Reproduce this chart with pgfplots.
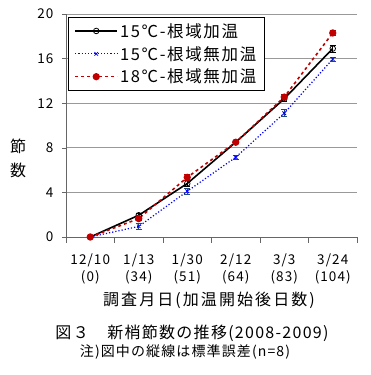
\documentclass[border=0pt]{standalone}
\usepackage{fontspec}
\setmainfont{Noto Sans CJK JP}[LetterSpace=8]
\usepackage{pgfplots}
\pgfplotsset{compat=1.18}
\definecolor{dred}{RGB}{192,0,0}
\definecolor{gblue}{RGB}{0,0,255}
\definecolor{errblue}{RGB}{31,73,125}
\begin{document}
\begin{tikzpicture}[x=1pt,y=1pt]
\useasboundingbox (0,0) rectangle (370,375);
\begin{axis}[
  at={(66pt,138pt)}, anchor=south west, scale only axis,
  width=291pt, height=223pt,
  xmin=-0.5, xmax=5.5, ymin=0, ymax=20,
  ytick={0,4,...,20},
  xtick={0,...,5},
  xticklabels={{12/10\\(0)},{1/13\\(34)},{1/30\\(51)},{2/12\\(64)},{3/3\\(83)},{3/24\\(104)}},
  xticklabel style={align=center, font=\fontsize{13.5}{17}\selectfont, yshift=-9pt},
  yticklabel style={font=\fontsize{13.5}{14}\selectfont, xshift=-5pt},
  minor xtick={-0.5,0.5,...,5.5},
  major x tick style={draw=none},
  minor tick length=6pt, major tick length=4pt,
  tick align=outside,
  axis x line*=bottom, axis y line*=left,
  axis line style={gray!80!black},
  tick style={gray!80!black},
  ymajorgrids, grid style={gray!80, line width=0.8pt},
  /pgf/number format/assume math mode=true,
  legend style={at={(0.007,0.987)}, anchor=north west, draw=black, line width=0.8pt,
     font=\fontsize{16.5}{18}\selectfont\addfontfeature{LetterSpace=10}, row sep=3.5pt, inner sep=4pt, inner xsep=6pt, cells={anchor=west}},
  legend image code/.code={\draw[mark repeat=2,mark phase=2,#1] plot coordinates {(0pt,0pt) (21pt,0pt) (42pt,0pt)};},
  clip=false,
]
\addplot[black, line width=1.6pt, mark=o, mark size=2.8pt, mark options={solid, fill=white, line width=0.8pt},
  error bars/.cd, y dir=both, y explicit, error bar style={black, line width=0.8pt, solid}, error mark options={rotate=90, mark size=3pt, line width=0.8pt}]
  coordinates {(0,0) +- (0,0) (1,1.95) +- (0,0.2) (2,4.8) +- (0,0.3) (3,8.5) +- (0,0.15) (4,12.4) +- (0,0.2) (5,16.9) +- (0,0.3)};
\addlegendentry{15℃-根域加温}
\addplot[gblue, line width=1.2pt, dotted, mark=x, mark size=2.5pt, mark options={solid, line width=0.8pt},
  error bars/.cd, y dir=both, y explicit, error bar style={errblue, line width=0.8pt, solid}, error mark options={rotate=90, mark size=3pt, line width=0.8pt}]
  coordinates {(0,0) +- (0,0) (1,0.95) +- (0,0.25) (2,4.1) +- (0,0.25) (3,7.15) +- (0,0.15) (4,11.1) +- (0,0.3) (5,15.95) +- (0,0.2)};
\addlegendentry{15℃-根域無加温}
\addplot[dred, line width=1.6pt, dashed, mark=*, mark size=2.8pt, mark options={solid, fill=dred},
  error bars/.cd, y dir=both, y explicit, error bar style={dred, line width=0.8pt, solid}, error mark options={rotate=90, mark size=3pt, line width=0.8pt}]
  coordinates {(0,0) +- (0,0) (1,1.65) +- (0,0.2) (2,5.35) +- (0,0.3) (3,8.5) +- (0,0.15) (4,12.55) +- (0,0.2) (5,18.3) +- (0,0.25)};
\addlegendentry{18℃-根域無加温}
\end{axis}
\node[font=\fontsize{16}{18}\selectfont] at (18,229) {節};
\node[font=\fontsize{16}{18}\selectfont] at (18,205) {数};
\node[font=\fontsize{16}{18}\selectfont\addfontfeature{LetterSpace=13}] at (209,75) {調査月日(加温開始後日数)};
\node[font=\fontsize{16}{18}\selectfont] at (192,42) {図３　新梢節数の推移(2008-2009)};
\node[font=\fontsize{14}{16}\selectfont] at (185,23) {注)図中の縦線は標準誤差(n=8)};
\end{tikzpicture}
\end{document}
